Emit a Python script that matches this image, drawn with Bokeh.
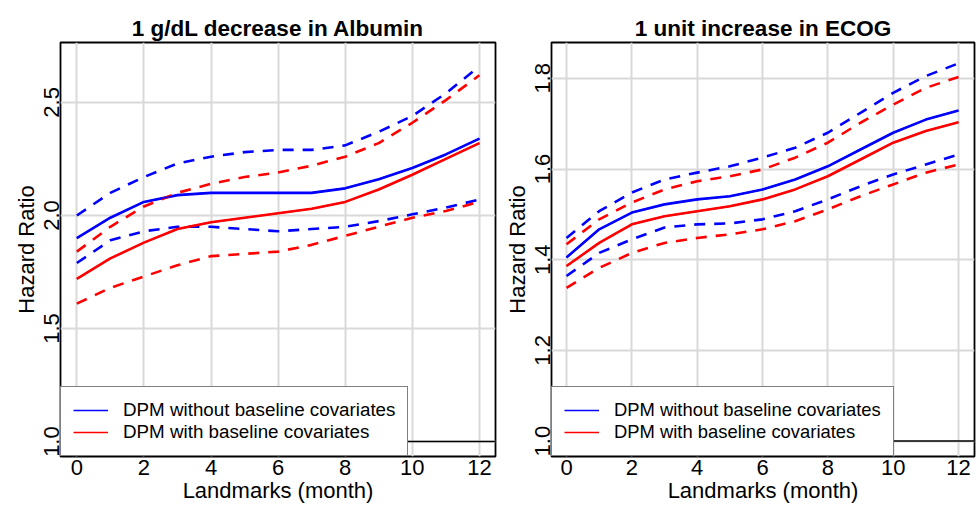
from bokeh.plotting import figure
from bokeh.layouts import row
from bokeh.models import Legend, LegendItem, Span, FixedTicker, Range1d
from bokeh.embed import file_html
from bokeh.resources import INLINE

# ---------------- data ----------------
months = [0, 1, 2, 3, 4, 5, 6, 7, 8, 9, 10, 11, 12]
x_ticks = [0, 2, 4, 6, 8, 10, 12]

alb_title = "1 g/dL decrease in Albumin"
alb_blue = [1.90, 1.99, 2.06, 2.09, 2.10, 2.10, 2.10, 2.10, 2.12, 2.16, 2.21, 2.27, 2.34]
alb_blue_lo = [1.79, 1.89, 1.93, 1.95, 1.95, 1.94, 1.93, 1.94, 1.95, 1.975, 2.005, 2.035, 2.07]
alb_blue_hi = [2.00, 2.10, 2.17, 2.23, 2.26, 2.28, 2.29, 2.29, 2.31, 2.37, 2.44, 2.54, 2.66]
alb_red = [1.72, 1.81, 1.88, 1.94, 1.97, 1.99, 2.01, 2.03, 2.06, 2.115, 2.18, 2.25, 2.32]
alb_red_lo = [1.61, 1.68, 1.73, 1.78, 1.82, 1.83, 1.84, 1.87, 1.91, 1.95, 1.99, 2.02, 2.06]
alb_red_hi = [1.84, 1.95, 2.04, 2.10, 2.14, 2.17, 2.19, 2.22, 2.26, 2.32, 2.41, 2.51, 2.62]
alb_y_ticks = [1.0, 1.5, 2.0, 2.5]
alb_y_labels = ["1.0", "1.5", "2.0", "2.5"]

ecog_title = "1 unit increase in ECOG"
ecog_blue = [1.405, 1.467, 1.504, 1.522, 1.533, 1.540, 1.555, 1.577, 1.606, 1.643, 1.680, 1.709, 1.729]
ecog_blue_lo = [1.364, 1.415, 1.445, 1.471, 1.478, 1.480, 1.489, 1.507, 1.533, 1.562, 1.588, 1.610, 1.632]
ecog_blue_hi = [1.448, 1.507, 1.548, 1.577, 1.592, 1.606, 1.625, 1.647, 1.680, 1.724, 1.768, 1.805, 1.833]
ecog_red = [1.386, 1.437, 1.478, 1.496, 1.507, 1.518, 1.533, 1.555, 1.584, 1.621, 1.658, 1.684, 1.703]
ecog_red_lo = [1.338, 1.382, 1.415, 1.437, 1.448, 1.456, 1.467, 1.485, 1.511, 1.540, 1.566, 1.592, 1.610]
ecog_red_hi = [1.434, 1.489, 1.526, 1.555, 1.573, 1.584, 1.599, 1.625, 1.658, 1.702, 1.742, 1.779, 1.803]
ecog_y_ticks = [1.0, 1.2, 1.4, 1.6, 1.8]
ecog_y_labels = ["1.0", "1.2", "1.4", "1.6", "1.8"]

series_labels = ["DPM without baseline covariates", "DPM with baseline covariates"]
ref_value = 1.0

FONT = "Liberation Sans"
BLUE = "#0000ff"
RED = "#ff0000"
DASH = "11 9"


def make_panel(title, blue, blue_lo, blue_hi, red, red_lo, red_hi,
               y_ticks, y_labels, x_rng, y_rng, width, border_left, legend_font):
    p = figure(width=width, height=506, output_backend="svg", toolbar_location=None,
               x_range=Range1d(*x_rng), y_range=Range1d(*y_rng),
               min_border_left=border_left, min_border_right=2,
               min_border_top=42, min_border_bottom=50)
    p.title.text = title
    p.title.align = "center"
    p.title.text_font = FONT
    p.title.text_font_size = "22.5px"
    p.title.text_font_style = "bold"
    p.title.text_color = "black"
    p.title.standoff = 4

    p.outline_line_color = "black"
    p.outline_line_width = 1.8
    p.background_fill_color = "white"
    p.border_fill_color = "white"

    for g in (p.xgrid, p.ygrid):
        g.grid_line_color = "#d9d9d9"
        g.grid_line_width = 2

    p.xaxis.ticker = FixedTicker(ticks=x_ticks)
    p.yaxis.ticker = FixedTicker(ticks=y_ticks)
    p.yaxis.major_label_overrides = {t: l for t, l in zip(y_ticks, y_labels)}
    p.yaxis.major_label_orientation = "parallel"
    p.xaxis.axis_label = "Landmarks (month)"
    p.yaxis.axis_label = "Hazard Ratio"
    for ax in (p.xaxis[0], p.yaxis[0]):
        ax.axis_line_color = None
        ax.major_tick_line_color = None
        ax.minor_tick_line_color = None
        ax.major_tick_out = 0
        ax.major_tick_in = 0
        ax.major_label_text_font = FONT
        ax.major_label_text_font_size = "22px"
        ax.major_label_text_color = "black"
        ax.axis_label_text_font = FONT
        ax.axis_label_text_font_size = "22px"
        ax.axis_label_text_font_style = "normal"
        ax.axis_label_text_color = "black"
    p.xaxis.major_label_standoff = 3
    p.xaxis.axis_label_standoff = 0
    p.yaxis.major_label_standoff = 1
    p.yaxis.axis_label_standoff = 3

    ref = Span(location=ref_value, dimension="width", line_color="black", line_width=1.5)
    ref.level = "glyph"
    p.add_layout(ref)

    p.line(months, blue, line_color=BLUE, line_width=2.6)
    p.line(months, blue_lo, line_color=BLUE, line_width=2.6, line_dash=DASH)
    p.line(months, blue_hi, line_color=BLUE, line_width=2.6, line_dash=DASH)
    p.line(months, red, line_color=RED, line_width=2.6)
    p.line(months, red_lo, line_color=RED, line_width=2.6, line_dash=DASH)
    p.line(months, red_hi, line_color=RED, line_width=2.6, line_dash=DASH)
    # thinner overlays used as legend keys
    b = p.line(months, blue, line_color=BLUE, line_width=1.5)
    r = p.line(months, red, line_color=RED, line_width=1.5)

    legend = Legend(items=[LegendItem(label=series_labels[0], renderers=[b]),
                           LegendItem(label=series_labels[1], renderers=[r])],
                    location="bottom_left", margin=0, padding=12, spacing=0,
                    label_height=22, glyph_height=22, glyph_width=35, label_standoff=15,
                    label_text_font=FONT, label_text_font_size=legend_font,
                    label_text_color="black",
                    border_line_color="black", border_line_width=1.5,
                    background_fill_color="white", background_fill_alpha=1.0)
    p.add_layout(legend)
    return p


p1 = make_panel(alb_title, alb_blue, alb_blue_lo, alb_blue_hi, alb_red, alb_red_lo, alb_red_hi,
                alb_y_ticks, alb_y_labels, (-0.486, 12.48), (0.934, 2.765), 497, 60, "18.8px")
p2 = make_panel(ecog_title, ecog_blue, ecog_blue_lo, ecog_blue_hi, ecog_red, ecog_red_lo, ecog_red_hi,
                ecog_y_ticks, ecog_y_labels, (-0.46, 12.49), (0.966, 1.879), 479, 54, "18.4px")

layout = row(p1, p2)
open("out.html", "w").write(file_html(layout, INLINE))
